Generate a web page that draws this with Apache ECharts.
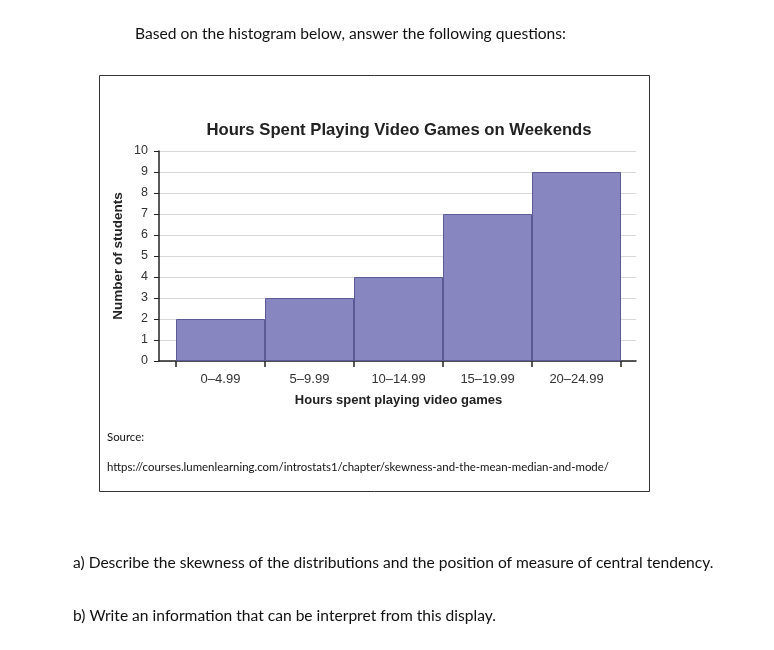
<!DOCTYPE html>
<html lang="en">
<head>
	<meta charset="utf-8">
	<title>Hours Spent Playing Video Games on Weekends</title>
	<script src="https://cdn.jsdelivr.net/npm/echarts@6/dist/echarts.min.js"></script>
	<style>
		html, body { margin: 0; padding: 0; background: #fff; }
		#chart { width: 774px; height: 650px; }
	</style>
</head>
<body>
<div id="chart"></div>
<script type="text/javascript">
	// histogram data
	var binLabels = ['0–4.99', '5–9.99', '10–14.99', '15–19.99', '20–24.99'];
	var studentCounts = [2, 3, 4, 7, 9];
	var yMax = 10;

	var pageFont = 'Lato, "Open Sans", sans-serif';
	var chartFont = '"Liberation Sans", Arial, sans-serif';

	var myChart = echarts.init(document.getElementById('chart'));
	var option = {
		animation: false,
		backgroundColor: '#fff',
		title: {
			text: 'Hours Spent Playing Video Games on Weekends',
			left: 394,
			top: 117,
			textAlign: 'center',
			textStyle: { fontFamily: chartFont, fontSize: 16.7, fontWeight: 'bold', color: '#222' }
		},
		grid: [
			// outer grid: y axis, grid lines, base line
			{ left: 159, right: 138, top: 151, bottom: 289 },
			// inner grid: bars and bin ticks
			{ left: 176, right: 153, top: 151, bottom: 289 }
		],
		xAxis: [
			{
				gridIndex: 0, type: 'value', min: 0, max: 1,
				axisLine: { show: true, lineStyle: { color: '#222', width: 1.5 } },
				axisTick: { show: false }, axisLabel: { show: false }, splitLine: { show: false }
			},
			{
				gridIndex: 1, type: 'category', data: binLabels,
				boundaryGap: true,
				axisLine: { show: false },
				axisTick: { show: true, length: 6, lineStyle: { color: '#222', width: 1.5 } },
				axisLabel: { margin: 12, fontFamily: chartFont, fontSize: 13, color: '#333' },
				name: 'Hours spent playing video games',
				nameLocation: 'middle',
				nameGap: 33,
				nameTextStyle: { fontFamily: chartFont, fontSize: 13, fontWeight: 'bold', color: '#222' }
			}
		],
		yAxis: [
			{
				gridIndex: 0, type: 'value', min: 0, max: yMax, interval: 1,
				axisLine: { show: true, lineStyle: { color: '#222', width: 1.5 } },
				axisTick: { show: true, length: 5, lineStyle: { color: '#222' } },
				axisLabel: { margin: 11, fontFamily: chartFont, fontSize: 12.5, color: '#333' },
				splitLine: { show: true, lineStyle: { color: '#d8d8d8' } },
				name: 'Number of students',
				nameLocation: 'middle',
				nameMoveOverlap: false,
				nameGap: 34,
				nameTextStyle: { fontFamily: chartFont, fontSize: 13.5, fontWeight: 'bold', color: '#222' }
			},
			{
				gridIndex: 1, type: 'value', min: 0, max: yMax,
				show: false
			}
		],
		series: [
			{
				type: 'bar',
				xAxisIndex: 1,
				yAxisIndex: 1,
				data: studentCounts,
				barCategoryGap: '0%',
				itemStyle: { color: '#8886c0', borderColor: '#5c5a94', borderWidth: 1 }
			}
		],
		graphic: [
			{
				type: 'rect',
				shape: { x: 99.5, y: 75.5, width: 550, height: 416 },
				style: { fill: 'none', stroke: '#333', lineWidth: 1 },
				silent: true
			},
			{
				type: 'text', left: 135, top: 26,
				style: { text: 'Based on the histogram below, answer the following questions:', font: '15.6px ' + pageFont, fill: '#111' }
			},
			{
				type: 'text', left: 107, top: 432,
				style: { text: 'Source:', font: '11.4px ' + pageFont, fill: '#111' }
			},
			{
				type: 'text', left: 107, top: 462,
				style: { text: 'https://courses.lumenlearning.com/introstats1/chapter/skewness-and-the-mean-median-and-mode/', font: '11.45px ' + pageFont, fill: '#111' }
			},
			{
				type: 'text', left: 73, top: 555,
				style: { text: 'a) Describe the skewness of the distributions and the position of measure of central tendency.', font: '15.6px ' + pageFont, fill: '#111' }
			},
			{
				type: 'text', left: 73, top: 608,
				style: { text: 'b) Write an information that can be interpret from this display.', font: '15.6px ' + pageFont, fill: '#111' }
			}
		]
	};
	myChart.setOption(option);
</script>
</body>
</html>
